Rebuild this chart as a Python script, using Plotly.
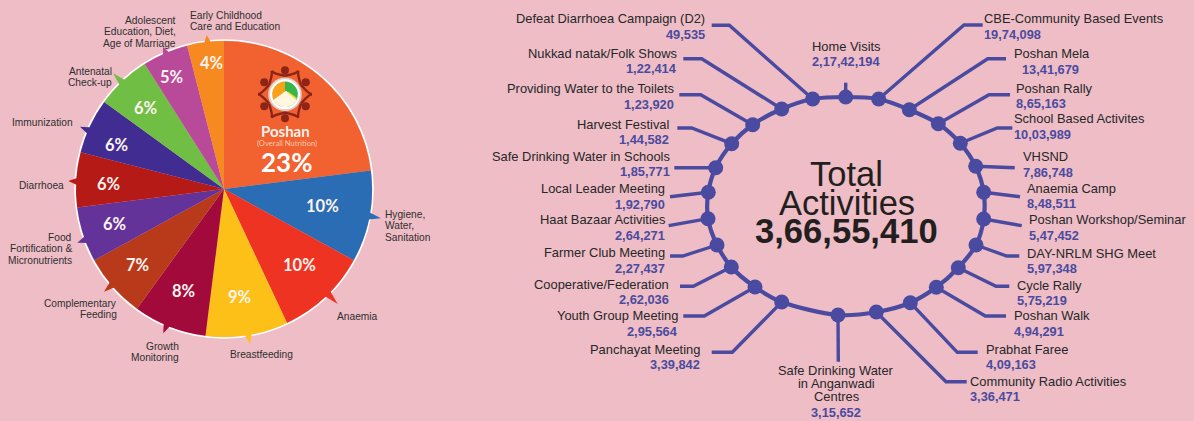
import numpy as np
import plotly.graph_objects as go

W, H = 1194, 421
BG = "#eebdc5"
HUB = "#4a4ba0"
INK = "#27272a"

# ---- theme shares ----
THEMES = ["Poshan (Overall Nutrition)", "Hygiene, Water, Sanitation", "Anaemia", "Breastfeeding",
          "Growth Monitoring", "Complementary Feeding", "Food Fortification & Micronutrients",
          "Diarrhoea", "Immunization", "Antenatal Check-up",
          "Adolescent Education, Diet, Age of Marriage", "Early Childhood Care and Education"]
SHARES = [23, 10, 10, 9, 8, 7, 6, 6, 6, 6, 5, 4]
SLICE_COLORS = ["#f26130", "#2a6db5", "#ef3323", "#fdc018", "#a10a3a", "#b83a1b",
                "#64339a", "#b61a17", "#412d91", "#70bf44", "#b94a9a", "#f6891f"]

# ---- activity counts, clockwise from the top of the wheel ----
ACTIVITIES = ["Home Visits", "CBE-Community Based Events", "Poshan Mela", "Poshan Rally",
              "School Based Activites", "VHSND", "Anaemia Camp", "Poshan Workshop/Seminar",
              "DAY-NRLM SHG Meet", "Cycle Rally", "Poshan Walk", "Prabhat Faree",
              "Community Radio Activities", "Safe Drinking Water\nin Anganwadi\nCentres",
              "Panchayat Meeting", "Youth Group Meeting", "Cooperative/Federation",
              "Farmer Club Meeting", "Haat Bazaar Activities", "Local Leader Meeting",
              "Safe Drinking Water in Schools", "Harvest Festival",
              "Providing Water to the Toilets", "Nukkad natak/Folk Shows",
              "Defeat Diarrhoea Campaign (D2)"]
COUNTS = [21742194, 1974098, 1341679, 865163, 1003989, 786748, 848511, 547452, 597348, 575219,
          494291, 409163, 336471, 315652, 339842, 295564, 262036, 227437, 264271, 192790,
          185771, 144582, 123920, 122414, 49535]
TOTAL = 36655410


def indian(n):
    """Group digits the Indian way: 3,66,55,410."""
    s = str(n)
    if len(s) <= 3:
        return s
    head, tail = s[:-3], s[-3:]
    parts = []
    while len(head) > 2:
        parts.insert(0, head[-2:])
        head = head[:-2]
    if head:
        parts.insert(0, head)
    return ",".join(parts + [tail])


# ---- page layout, in pixels ----
PIE_CX, PIE_CY, PIE_R = 224, 189, 148

# where each share figure sits on its slice
SHARE_XY = [(286.7, 161.5), (322, 205.5), (299.3, 265.3), (239.7, 297.3), (183.7, 291.3), (137.3, 265),
            (114.7, 224.3), (108.3, 184.3), (116.3, 144.6), (145.7, 108.3), (171.3, 77.3), (211, 62.5)]

# rim spikes: tip position, colour index
SPIKES = [(381, 218.3, 1), (337.7, 304, 2), (250, 344, 3), (163.3, 333.3, 4), (104, 291.7, 5),
          (77.3, 242.7, 6), (68.3, 181, 7), (80, 126.7, 8), (113.3, 73.3, 9), (163, 46.7, 10),
          (206.7, 35, 11)]

# theme captions: lines, anchor x, first-line centre y, alignment
CAPTIONS = [
    (["Early Childhood", "Care and Education"], 190, 15, "left"),
    (["Adolescent", "Education, Diet,", "Age of Marriage"], 175.5, 20.5, "right"),
    (["Antenatal", "Check-up"], 111.5, 71.5, "right"),
    (["Immunization"], 73, 122.5, "right"),
    (["Diarrhoea"], 63.5, 185.5, "right"),
    (["Food", "Fortification &", "Micronutrients"], 72, 237.5, "right"),
    (["Complementary", "Feeding"], 117, 303.5, "right"),
    (["Growth", "Monitoring"], 178.5, 346.5, "right"),
    (["Breastfeeding"], 230, 354, "left"),
    (["Anaemia"], 337, 316, "left"),
    (["Hygiene,", "Water,", "Sanitation"], 385.5, 214.5, "left"),
]

# wheel geometry, same order as ACTIVITIES
NODE_X = [845.7, 878.7, 909.3, 938.3, 960.3, 975.7, 983.7, 983.7, 976, 958.3, 936.3, 910.3, 876.3,
          838, 781.7, 755, 731.3, 717, 708, 708.3, 715.7, 731.7, 752.7, 781.7, 812.7]
NODE_Y = [97, 99, 109.7, 123.7, 143.3, 166.3, 192.3, 219, 245, 267.7, 287.3, 302.7, 312,
          315, 302, 287, 267, 245, 218.7, 192.3, 167.7, 143.7, 124.7, 109, 99]
LEADERS = [
    [(845.7, 82.7)], [(964, 25), (982.7, 25)], [(987.7, 58.7), (1006, 58.7)],
    [(989, 94.7), (1010, 94.7)], [(997.3, 128), (1012.3, 128)], [(1014.7, 167.7)],
    [(1020, 196.7)], [(1021.7, 225.7)], [(1006.7, 256), (1019.3, 256)],
    [(996, 286.3), (1009.3, 286.3)], [(985.3, 316), (1006, 316)], [(957.3, 352.3), (977.7, 352.3)],
    [(946, 381.7), (966.7, 381.7)], [(838.3, 361.7)], [(732.3, 352.3), (711.7, 352.3)],
    [(704.3, 316), (683.3, 316)], [(693.3, 286.3), (680, 286.3)], [(682.7, 256), (670, 256)],
    [(668.7, 225.7)], [(670, 196.7)], [(674.3, 167.7)], [(691.7, 128), (677.3, 128)],
    [(700.7, 94.7), (679.3, 94.7)], [(701.7, 58.7), (683.3, 58.7)], [(729.3, 25.3), (711.7, 25.3)],
]
ALIGN = ["center"] + ["left"] * 12 + ["center"] + ["right"] * 11
NAME_X = [846, 984.7, 1014, 1016, 1014.7, 1023.3, 1027.7, 1029, 1027.3, 1017.7, 1014.3, 986, 970,
          836, 700.3, 678.3, 669.3, 664.7, 665, 665.3, 670, 668.7, 674, 677, 705]
VALUE_X = list(NAME_X)
VALUE_X[2] = 1022.7
NAME_Y = [46, 18.3, 53.3, 88, 118.7, 156.7, 188.3, 219.7, 253.3, 285, 315.3, 349, 381.3,
          370, 349, 315.3, 284.3, 252.3, 219.7, 188.3, 156, 124, 88.7, 53, 18.3]
VALUE_Y = [61.5, 34.3, 69, 103.3, 134.3, 172.3, 203.7, 235.7, 268.7, 300.3, 331, 364.7, 396.7,
           412, 364.3, 331, 299.7, 268.3, 235.7, 204, 171.7, 139.7, 104.7, 68.7, 34]

annotations = []
# side bearing of the annotation box, so the ink edge lands on the anchor
ANCHOR_NUDGE = {"left": -1.5, "right": 1.0, "center": 0.0}


def put(text, x, y, size, color=INK, align="center", family="Liberation Sans", bold=False):
    annotations.append(dict(
        x=x + ANCHOR_NUDGE[align], y=y, xref="x", yref="y",
        text=f"<b>{text}</b>" if bold else text, showarrow=False,
        xanchor=align, yanchor="middle", borderpad=0,
        font=dict(family=family, size=size, color=color),
    ))


# ---- shapes: rim, spikes, emblem ----
def polygon(points):
    return "M " + " L ".join(f"{x:.2f},{y:.2f}" for x, y in points) + " Z"


shapes = [dict(type="circle", xref="x", yref="y", layer="below",
               x0=PIE_CX - PIE_R - 1, x1=PIE_CX + PIE_R + 1,
               y0=PIE_CY - PIE_R - 1, y1=PIE_CY + PIE_R + 1,
               line=dict(color="#ffffff", width=1.6), fillcolor="rgba(0,0,0,0)")]

for tx, ty, ci in SPIKES:
    a = np.arctan2(ty - PIE_CY, tx - PIE_CX)
    base = [(PIE_CX + (PIE_R - 3) * np.cos(a + d), PIE_CY + (PIE_R - 3) * np.sin(a + d))
            for d in (-0.03, 0.03)]
    shapes.append(dict(type="path", layer="below", xref="x", yref="y",
                       path=polygon([base[0], (tx, ty), base[1]]),
                       fillcolor=SLICE_COLORS[ci], line=dict(width=0)))

LOGO_X, LOGO_Y = 285, 94.3
MAROON = "#8c2417"


def above_circle(r, fill, cx=LOGO_X, cy=LOGO_Y):
    shapes.append(dict(type="circle", layer="above", xref="x", yref="y",
                       x0=cx - r, x1=cx + r, y0=cy - r, y1=cy + r, fillcolor=fill,
                       line=dict(width=0)))


for deg in (90, 30, -30, -90, -150, 150):
    a = np.radians(deg)
    hx, hy = LOGO_X + 24 * np.cos(a), LOGO_Y - 24 * np.sin(a)
    above_circle(4, MAROON, cx=hx, cy=hy)
    # raised arms curving around the head of each figure
    for side in (-1, 1):
        b = a + side * np.radians(30)
        p0 = (LOGO_X + 18.5 * np.cos(a), LOGO_Y - 18.5 * np.sin(a))
        p1 = (LOGO_X + 24 * np.cos(b), LOGO_Y - 24 * np.sin(b))
        p2 = (LOGO_X + 27 * np.cos(b), LOGO_Y - 27 * np.sin(b))
        shapes.append(dict(type="path", layer="above", xref="x", yref="y",
                           path=f"M {p0[0]:.2f},{p0[1]:.2f} Q {p1[0]:.2f},{p1[1]:.2f} {p2[0]:.2f},{p2[1]:.2f}",
                           line=dict(color=MAROON, width=2.4)))

above_circle(16.8, "#d9d2cd")
above_circle(15, "#ffffff")
t = np.radians(np.linspace(90, 270, 40))
shapes.append(dict(type="path", layer="above", xref="x", yref="y",
                   path=polygon([(LOGO_X + 12.8 * np.cos(v), LOGO_Y - 12.8 * np.sin(v)) for v in t]),
                   fillcolor="#f9a11b", line=dict(width=0)))
t = np.radians(np.linspace(-90, 90, 40))
shapes.append(dict(type="path", layer="above", xref="x", yref="y",
                   path=polygon([(LOGO_X + 12.8 * np.cos(v), LOGO_Y - 12.8 * np.sin(v)) for v in t]),
                   fillcolor="#3ab54a", line=dict(width=0)))
t = np.radians(np.linspace(-42, -138, 20))
shapes.append(dict(type="path", layer="above", xref="x", yref="y",
                   path=polygon([(LOGO_X + 1, LOGO_Y - 3.5), (LOGO_X + 12, LOGO_Y + 6)]
                                + [(LOGO_X + 12.8 * np.cos(v), LOGO_Y - 12.8 * np.sin(v)) for v in t]
                                + [(LOGO_X - 12, LOGO_Y + 6)]),
                   fillcolor="#fff7e0", line=dict(width=0)))
shapes.append(dict(type="path", layer="above", xref="x", yref="y",
                   path=f"M {LOGO_X + 3},{LOGO_Y - 2} L {LOGO_X + 11.5},{LOGO_Y + 4.5}",
                   line=dict(color="#f4e02a", width=1.6)))

# ---- text on the pie ----
LATO = "Lato"
for share, (x, y) in list(zip(SHARES, SHARE_XY))[1:]:
    put(f"{share}%", x, y, 16.5, "#fdf3ee", family=LATO, bold=True)
put(f"{SHARES[0]}%", *SHARE_XY[0], 26, "#ffffff", family=LATO, bold=True)
put("Poshan", 285.3, 131, 15, "#fdf3ee", family=LATO, bold=True)
put("(Overall Nutrition)", 286.7, 143.3, 7.6, "#f8c9ae", family=LATO)

for lines, x, y, align in CAPTIONS:
    for i, line in enumerate(lines):
        put(line, x, y + i * 11.4, 10.2, "#2f2f31", align)

# ---- text around the wheel ----
for i, name in enumerate(ACTIVITIES):
    for j, line in enumerate(name.split("\n")):
        put(line, NAME_X[i], NAME_Y[i] + j * 13, 12.9, INK, ALIGN[i])
    put(indian(COUNTS[i]), VALUE_X[i], VALUE_Y[i], 12.8, HUB, ALIGN[i], bold=True)

put("Total", 846, 174, 34.5, "#231f20")
put("Activities", 847, 202.5, 34.5, "#231f20")
put(indian(TOTAL), 846.5, 231, 34.6, "#231f20", bold=True)

# ---- traces ----
fig = go.Figure()
fig.add_trace(go.Pie(
    labels=THEMES, values=SHARES, sort=False, direction="clockwise", rotation=0,
    marker=dict(colors=SLICE_COLORS, line=dict(width=0)), textinfo="none", showlegend=False,
    domain=dict(x=[(PIE_CX - PIE_R) / W, (PIE_CX + PIE_R) / W],
                y=[1 - (PIE_CY + PIE_R) / H, 1 - (PIE_CY - PIE_R) / H]),
))

lead_x, lead_y = [], []
for i, path in enumerate(LEADERS):
    lead_x += [NODE_X[i]] + [p[0] for p in path] + [None]
    lead_y += [NODE_Y[i]] + [p[1] for p in path] + [None]
fig.add_trace(go.Scatter(x=lead_x, y=lead_y, mode="lines", hoverinfo="skip", showlegend=False,
                         line=dict(color=HUB, width=3.4)))
fig.add_trace(go.Scatter(x=NODE_X + NODE_X[:1], y=NODE_Y + NODE_Y[:1], mode="lines",
                         hoverinfo="skip", showlegend=False,
                         line=dict(color=HUB, width=4.2, shape="spline", smoothing=0.8)))
fig.add_trace(go.Scatter(x=NODE_X, y=NODE_Y, mode="markers", showlegend=False,
                         text=[a.replace("\n", " ") for a in ACTIVITIES], customdata=COUNTS,
                         hovertemplate="%{text}: %{customdata}<extra></extra>",
                         marker=dict(color=HUB, size=15, line=dict(width=0))))

fig.update_layout(
    width=W, height=H, margin=dict(l=0, r=0, t=0, b=0, pad=0), autosize=False,
    paper_bgcolor=BG, plot_bgcolor=BG,
    xaxis=dict(range=[0, W], visible=False, fixedrange=True),
    yaxis=dict(range=[H, 0], visible=False, fixedrange=True),
    shapes=shapes, annotations=annotations,
)
fig.write_html("out.html", config=dict(displayModeBar=False))
